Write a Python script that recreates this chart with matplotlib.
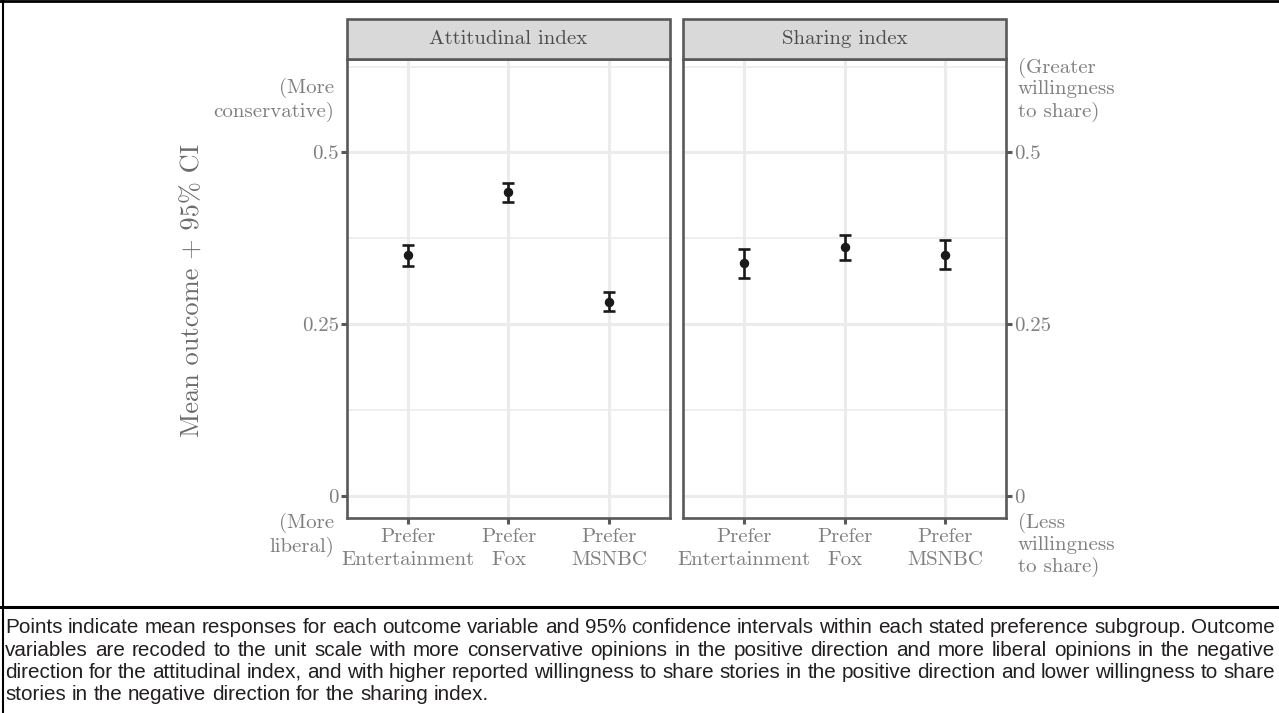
import matplotlib
matplotlib.use("Agg")
import matplotlib.pyplot as plt
from matplotlib.patches import Rectangle
from matplotlib.lines import Line2D

plt.rcParams["font.family"] = ["cmr10", "DejaVu Serif"]
plt.rcParams["axes.formatter.use_mathtext"] = True

# ---------------------------------------------------------------------
# Data
# ---------------------------------------------------------------------
panel_titles = ["Attitudinal index", "Sharing index"]
groups = ["Prefer\nEntertainment", "Prefer\nFox", "Prefer\nMSNBC"]

att_mean = [0.351, 0.442, 0.283]
att_low = [0.335, 0.428, 0.270]
att_high = [0.366, 0.456, 0.297]

share_mean = [0.339, 0.362, 0.351]
share_low = [0.318, 0.344, 0.331]
share_high = [0.360, 0.380, 0.373]

y_ticks = [0, 0.25, 0.5]
y_ticklabels = ["0", "0.25", "0.5"]
y_minor = [0.125, 0.375, 0.625]

caption_lines = [
    "Points indicate mean responses for each outcome variable and 95% confidence intervals within each stated preference subgroup. Outcome",
    "variables are recoded to the unit scale with more conservative opinions in the positive direction and more liberal opinions in the negative",
    "direction for the attitudinal index, and with higher reported willingness to share stories in the positive direction and lower willingness to share",
    "stories in the negative direction for the sharing index.",
]

# ---------------------------------------------------------------------
# Styles
# ---------------------------------------------------------------------
BORDER = "#595959"
GRID = "#ebebeb"
TICKTXT = "#7f7f7f"
STRIPFILL = "#d9d9d9"
W, H = 1279, 713
TXT = 15
LSP = 1.2

fig = plt.figure(figsize=(W / 100, H / 100), dpi=100)

panel_y0 = 1 - 517.5 / H
panel_h = (517.5 - 59) / H
panel_w = 323 / W
ax1 = fig.add_axes([347 / W, panel_y0, panel_w, panel_h])
ax2 = fig.add_axes([683 / W, panel_y0, panel_w, panel_h])

series = [
    (att_mean, att_low, att_high),
    (share_mean, share_low, share_high),
]
xs = list(range(1, len(groups) + 1))

for ax, title, (m, lo, hi) in zip([ax1, ax2], panel_titles, series):
    ax.set_xlim(0.4, 3.6)
    ax.set_ylim(-0.031, 0.636)
    ax.set_facecolor("white")
    for y in y_minor:
        ax.axhline(y, color=GRID, lw=1.1, zorder=0)
    for y in y_ticks:
        ax.axhline(y, color=GRID, lw=2.2, zorder=0)
    for x in xs:
        ax.axvline(x, color=GRID, lw=2.2, zorder=0)
    yerr = [[mm - l for mm, l in zip(m, lo)], [h - mm for mm, h in zip(m, hi)]]
    ax.errorbar(xs, m, yerr=yerr, fmt="o", color="#1a1a1a", ms=5.8,
                elinewidth=1.9, capsize=4, capthick=1.9, zorder=3)
    for sp in ax.spines.values():
        sp.set_color(BORDER)
        sp.set_linewidth(1.9)
    ax.set_xticks(xs)
    ax.set_xticklabels(groups, fontsize=TXT, color=TICKTXT, linespacing=1.38)
    ax.tick_params(axis="x", length=4, width=2.2, color=BORDER, pad=3.5)
    ax.set_yticks(y_ticks)
    ax.set_yticklabels(y_ticklabels, fontsize=TXT, color=TICKTXT)
    ax.tick_params(axis="y", length=4, width=2.2, color=BORDER, pad=2)

    # facet strip
    strip_h = 40 / (517.5 - 59)
    ax.add_patch(Rectangle((0, 1), 1, strip_h, transform=ax.transAxes,
                           facecolor=STRIPFILL, edgecolor=BORDER, lw=1.9,
                           clip_on=False, zorder=5))
    ax.text(0.5, 1 + strip_h / 2, title, transform=ax.transAxes,
            ha="center", va="center", fontsize=15, color="#4d4d4d", zorder=6)

ax2.yaxis.tick_right()

# direction notes next to the y axes
note_kw = dict(fontsize=TXT, color=TICKTXT, linespacing=LSP, clip_on=False)
ax1.text(-0.04, 0.545, "(More\nconservative)", transform=ax1.get_yaxis_transform(),
         ha="right", va="bottom", **note_kw)
ax1.text(-0.04, -0.025, "(More\nliberal)", transform=ax1.get_yaxis_transform(),
         ha="right", va="top", **note_kw)
ax2.text(1.036, 0.545, "(Greater\nwillingness\nto share)", transform=ax2.get_yaxis_transform(),
         ha="left", va="bottom", **note_kw)
ax2.text(1.036, -0.025, "(Less\nwillingness\nto share)", transform=ax2.get_yaxis_transform(),
         ha="left", va="top", **note_kw)

fig.text(193 / W, 1 - 290 / H, "Mean outcome + 95% CI", rotation=90,
         ha="center", va="center", fontsize=19, color="#6b6b6b")

# ---------------------------------------------------------------------
# Frame and justified caption
# ---------------------------------------------------------------------
fig.add_artist(Line2D([0, 1], [1 - 0.8 / H, 1 - 0.8 / H], transform=fig.transFigure, color="black", lw=2))
fig.add_artist(Line2D([2.5 / W, 2.5 / W], [0, 1], transform=fig.transFigure, color="black", lw=1.5))
fig.add_artist(Line2D([0, 1], [1 - 606.5 / H, 1 - 606.5 / H], transform=fig.transFigure, color="black", lw=2.2))

renderer = fig.canvas.get_renderer()
cap_font = dict(family=["Liberation Sans", "DejaVu Sans"], color="#231f20")

# pick a size so the last (unjustified) line ends where it does in the reference
probe = fig.text(0, 0, caption_lines[-1], fontsize=10, **cap_font)
probe_w = probe.get_window_extent(renderer).width
probe.remove()
cap_size = 10 * 486 / probe_w

x_left, x_right = 5, 1275
line_y = [633, 655.5, 678, 700.5]  # baselines, px from top
for i, (line, ypx) in enumerate(zip(caption_lines, line_y)):
    words = line.split(" ")
    texts = [fig.text(0, 1 - ypx / H, w, fontsize=cap_size, va="baseline", **cap_font)
             for w in words]
    widths = [t.get_window_extent(renderer).width for t in texts]
    if i < len(caption_lines) - 1:
        gap = (x_right - x_left - sum(widths)) / (len(words) - 1)
    else:
        sp = fig.text(0, 0, "a a", fontsize=cap_size, **cap_font)
        sa = fig.text(0, 0, "aa", fontsize=cap_size, **cap_font)
        gap = sp.get_window_extent(renderer).width - sa.get_window_extent(renderer).width
        sp.remove()
        sa.remove()
    x = x_left
    for t, w in zip(texts, widths):
        t.set_x(x / W)
        x += w + gap

fig.savefig("out.png", dpi=100, facecolor="white")
